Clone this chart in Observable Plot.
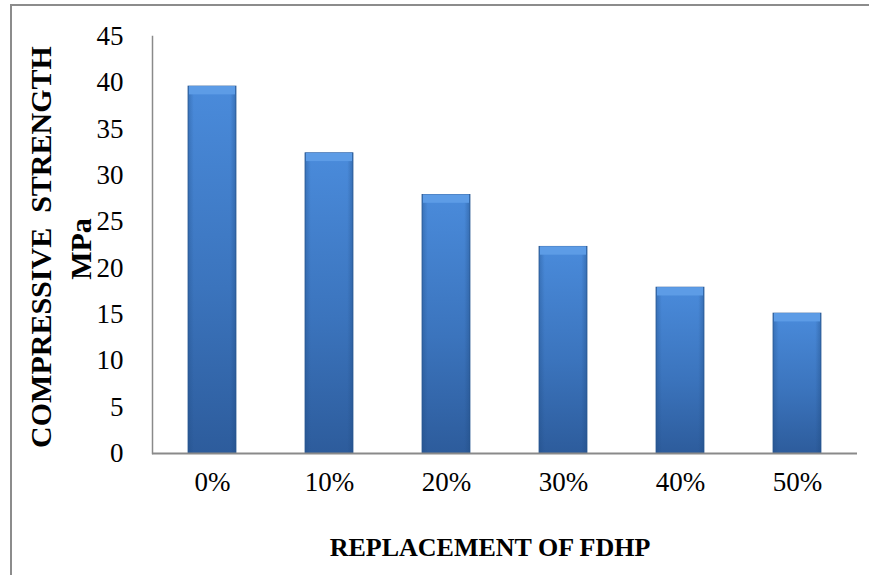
<!DOCTYPE html>
<html><head><meta charset="utf-8">
<script src="https://cdn.jsdelivr.net/npm/d3@7"></script>
<script src="https://cdn.jsdelivr.net/npm/@observablehq/plot@0.6"></script>
<style>
body{margin:0;background:#fff;}
#wrap{position:relative;width:869px;height:575px;overflow:hidden;background:#fff;}
#wrap::before{content:"";position:absolute;left:10px;top:4px;right:0;bottom:0;border-top:2px solid #8c8c8c;border-left:2px solid #8c8c8c;pointer-events:none;}
#wrap svg text{white-space:pre;}
</style></head><body><div id="wrap"></div>
<script>
const categories = ["0%", "10%", "20%", "30%", "40%", "50%"];
const strength = [39.6, 32.4, 27.9, 22.3, 17.9, 15.1];
const yTicks = [0, 5, 10, 15, 20, 25, 30, 35, 40, 45];
const xTitle = "REPLACEMENT OF FDHP";
const yTitleLine1 = "COMPRESSIVE  STRENGTH";
const yTitleLine2 = "MPa";

const data = categories.map((c, i) => ({cat: c, value: strength[i]}));

const defs = () => {
  const d = d3.create("svg:defs");
  const g = d.append("linearGradient").attr("id", "barGrad").attr("x1", 0).attr("y1", 0).attr("x2", 0).attr("y2", 1);
  g.append("stop").attr("offset", "0%").attr("stop-color", "#4a8bdb");
  g.append("stop").attr("offset", "55%").attr("stop-color", "#3b74bd");
  g.append("stop").attr("offset", "100%").attr("stop-color", "#2d5c9c");
  const h = d.append("linearGradient").attr("id", "sideGrad").attr("x1", 0).attr("y1", 0).attr("x2", 1).attr("y2", 0);
  h.append("stop").attr("offset", "0%").attr("stop-color", "#1f4a80").attr("stop-opacity", 0.35);
  h.append("stop").attr("offset", "12%").attr("stop-color", "#1f4a80").attr("stop-opacity", 0);
  h.append("stop").attr("offset", "88%").attr("stop-color", "#1f4a80").attr("stop-opacity", 0);
  h.append("stop").attr("offset", "100%").attr("stop-color", "#1f4a80").attr("stop-opacity", 0.4);
  return d.node();
};

const plot = Plot.plot({
  width: 869,
  height: 575,
  marginLeft: 152,
  marginRight: 12,
  marginTop: 36,
  marginBottom: 122,
  style: {fontFamily: "'Liberation Serif', 'Times New Roman', serif", fontSize: "27px", background: "transparent", color: "#000"},
  x: {domain: categories, paddingInner: 0.59, paddingOuter: 0.295, label: null},
  y: {domain: [0, 45], label: null},
  marks: [
    defs,
    Plot.barY(data, {x: "cat", y: "value", fill: "url(#barGrad)", stroke: "#2c5a95", strokeWidth: 0.8}),
    Plot.barY(data, {x: "cat", y: "value", fill: "url(#sideGrad)"}),
    Plot.barY(data, {x: "cat", y1: d => d.value - 0.9, y2: "value", fill: "#5d9ce6", insetLeft: 1, insetRight: 1}),
    Plot.frame({anchor: "left", stroke: "#8a8a8a", strokeWidth: 1.5}),
    Plot.ruleY([0], {stroke: "#8a8a8a", strokeWidth: 2}),
    Plot.axisY({ticks: yTicks, tickSize: 0, tickPadding: 29, fontSize: 27, label: null}),
    Plot.axisX({tickSize: 0, tickPadding: 18, fontSize: 27, label: null}),
    Plot.text([xTitle], {frameAnchor: "bottom", textAnchor: "middle", dx: -15, dy: 102, fontSize: 26, fontWeight: "bold", fill: "#000"}),
    Plot.text([yTitleLine1], {frameAnchor: "left", textAnchor: "middle", dx: -111, dy: 2, rotate: -90, fontSize: 30, fontWeight: "bold", fill: "#000"}),
    Plot.text([yTitleLine2], {frameAnchor: "left", textAnchor: "middle", dx: -71, dy: 4, rotate: -90, fontSize: 30, fontWeight: "bold", fill: "#000"})
  ]
});
document.getElementById("wrap").appendChild(plot);
</script>
</body></html>
